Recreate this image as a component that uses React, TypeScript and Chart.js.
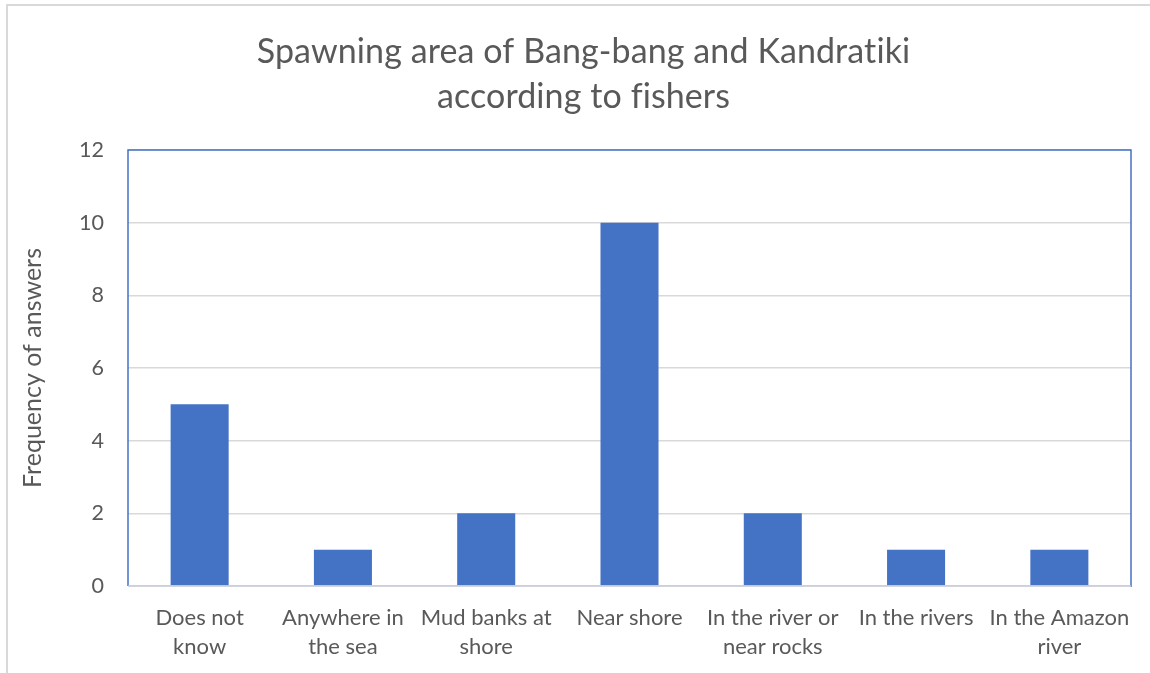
import React, { useEffect, useRef } from "react";
import { Chart, registerables } from "chart.js";

Chart.register(...registerables);

const titleLines = ["Spawning area of Bang-bang and Kandratiki", "according to fishers"];
const categories: string[][] = [
  ["Does not", "know"],
  ["Anywhere in", "the sea"],
  ["Mud banks at", "shore"],
  ["Near shore"],
  ["In the river or", "near rocks"],
  ["In the rivers"],
  ["In the Amazon", "river"],
];
const frequencies = [5, 1, 2, 10, 2, 1, 1];
const yAxisTitle = "Frequency of answers";
const yMin = 0;
const yMax = 12;
const yStep = 2;

const FONT = "Lato";
const TEXT = "#595959";
const BLUE = "#4472C4";
const GRID = "#d9d9d9";

const framePlugin = {
  id: "frame",
  afterDraw(chart: any) {
    const { ctx, chartArea } = chart;
    const { left, top, right, bottom } = chartArea;
    ctx.save();
    ctx.strokeStyle = BLUE;
    ctx.lineWidth = 1.5;
    ctx.beginPath();
    ctx.moveTo(left, bottom);
    ctx.lineTo(left, top);
    ctx.lineTo(right, top);
    ctx.lineTo(right, bottom + 1);
    ctx.stroke();
    ctx.strokeStyle = "#c8cdd8";
    ctx.lineWidth = 1.5;
    ctx.beginPath();
    ctx.moveTo(left, bottom);
    ctx.lineTo(right, bottom);
    ctx.stroke();
    // title
    ctx.fillStyle = TEXT;
    ctx.font = `34px ${FONT}`;
    try {
      (ctx as any).letterSpacing = "0.1px";
    } catch (e) {}
    ctx.textAlign = "center";
    ctx.textBaseline = "middle";
    titleLines.forEach((t, i) => ctx.fillText(t, 583.5, 52 + i * 45));
    ctx.restore();
  },
};

export default function App() {
  const ref = useRef<HTMLCanvasElement | null>(null);
  useEffect(() => {
    if (!ref.current) return;
    const chart = new Chart(ref.current, {
      type: "bar",
      data: {
        labels: categories,
        datasets: [
          {
            data: frequencies,
            backgroundColor: BLUE,
            borderWidth: 0,
            categoryPercentage: 1,
            barPercentage: 0.405,
          },
        ],
      },
      options: {
        responsive: false,
        animation: false,
        layout: { padding: { top: 150, right: 19, left: 0, bottom: 0 } },
        plugins: { legend: { display: false }, title: { display: false }, tooltip: { enabled: false } },
        scales: {
          x: {
            grid: { display: false, drawTicks: false },
            border: { display: false },
            ticks: {
              color: TEXT,
              font: { family: FONT, size: 22, lineHeight: 1.32 },
              padding: 17.5,
              maxRotation: 0,
              autoSkip: false,
            },
            afterFit(scale: any) {
              scale.height = 87;
            },
          },
          y: {
            min: yMin,
            max: yMax,
            grid: { color: GRID, lineWidth: 1.5, drawTicks: false },
            border: { display: false },
            ticks: {
              stepSize: yStep,
              color: TEXT,
              font: { family: FONT, size: 21.5 },
              padding: 24,
            },
            title: {
              display: true,
              text: yAxisTitle,
              color: TEXT,
              font: { family: FONT, size: 25 },
              padding: { top: 18, bottom: 0 },
            },
            afterFit(scale: any) {
              scale.width = 128;
            },
          },
        },
      },
      plugins: [framePlugin],
    });
    return () => chart.destroy();
  }, []);
  return (
    <div style={{ position: "fixed", left: 0, top: 0, width: 1150, height: 673, overflow: "hidden", background: "#fff" }}>
      <div
        style={{
          position: "absolute",
          left: 6,
          top: 4,
          width: 1200,
          height: 700,
          border: "2px solid #d9d9d9",
          boxSizing: "border-box",
        }}
      />
      <canvas ref={ref} width={1150} height={673} style={{ position: "absolute", left: 0, top: 0 }} />
    </div>
  );
}
